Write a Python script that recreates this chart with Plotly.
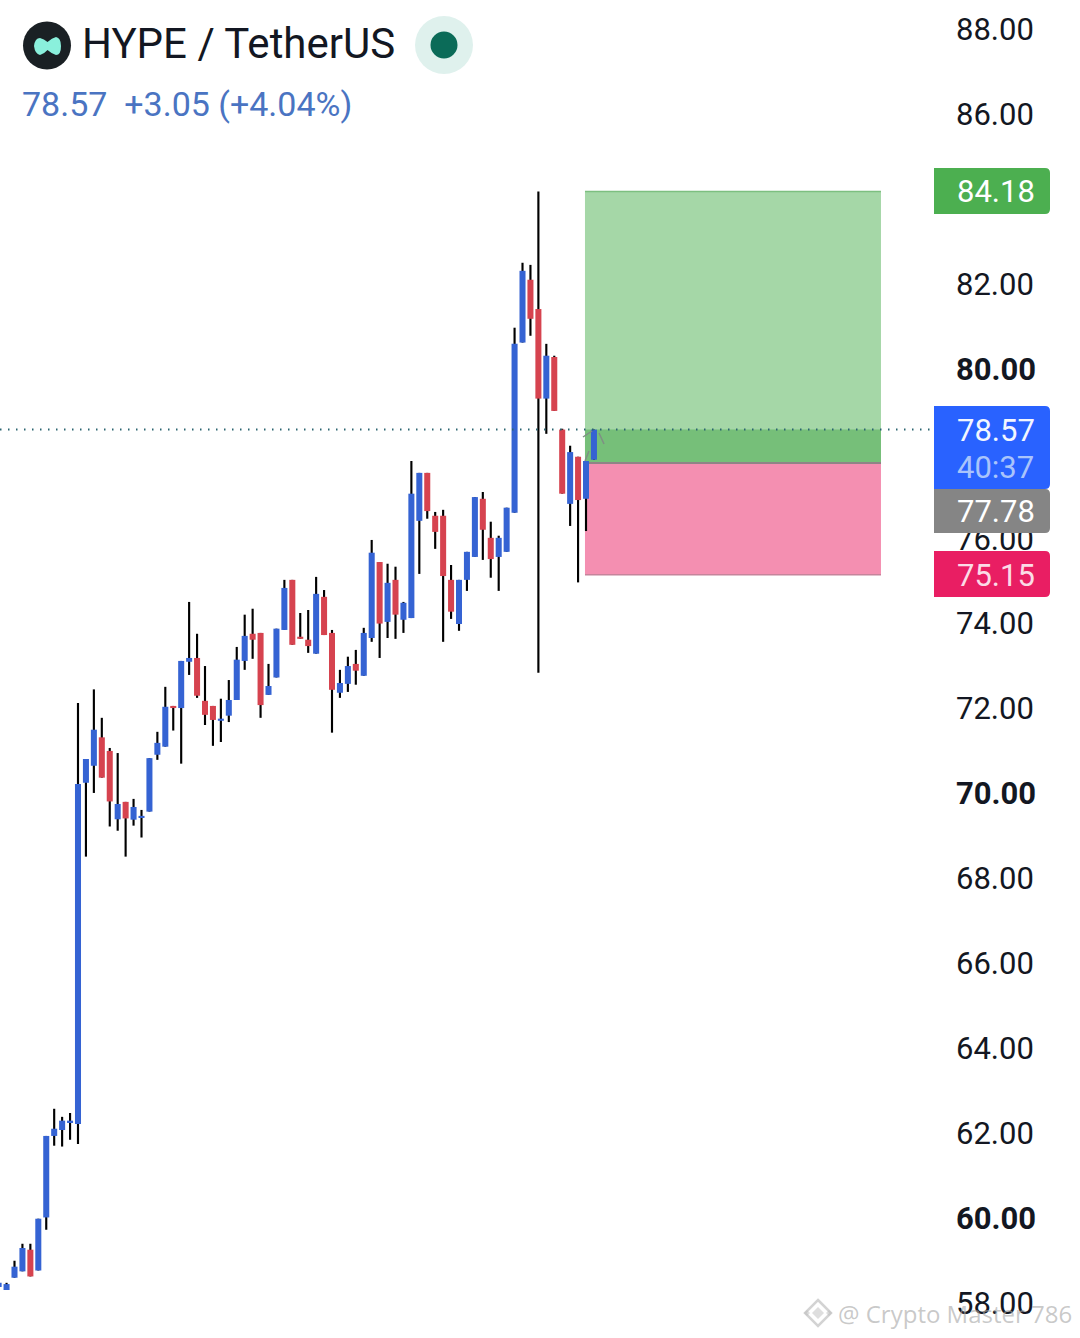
import plotly.graph_objects as go

W = 1080
H = 1338
PLOT_W = 934  # price axis starts right of this

opens = [58.37, 58.30, 58.59, 58.74, 59.25, 58.76, 60.01, 61.93, 62.07, 62.25,
         62.21, 70.25, 70.65, 71.32, 71.00, 69.39, 69.80, 69.38, 69.43, 69.57,
         70.91, 71.10, 72.06, 72.01, 73.10, 73.19, 72.18, 72.06, 71.71, 71.83,
         72.20, 73.12, 73.76, 73.78, 72.32, 72.73, 73.85, 75.03, 73.69, 73.62,
         73.29, 74.63, 73.78, 72.37, 72.58, 73.05, 72.77, 73.66, 75.45, 74.04,
         75.03, 74.09, 74.13, 76.42, 77.55, 76.54, 76.54, 75.03, 73.99, 75.03,
         75.57, 76.94, 76.02, 75.57, 75.69, 76.61, 80.62, 82.10, 81.41, 79.30,
         80.28, 78.57, 76.82, 77.93, 76.94, 77.86]
highs = [58.47, 58.47, 58.99, 59.39, 59.39, 59.98, 61.93, 62.57, 62.38, 62.47,
         72.13, 70.81, 72.45, 71.78, 71.07, 70.95, 69.80, 69.87, 69.61, 70.83,
         71.45, 72.51, 72.06, 73.12, 74.51, 73.76, 73.00, 72.06, 72.23, 72.67,
         73.45, 74.21, 74.35, 73.78, 73.05, 73.88, 75.03, 75.03, 74.25, 74.32,
         75.10, 74.79, 73.85, 72.91, 73.22, 73.38, 73.90, 75.97, 75.45, 75.41,
         75.34, 74.51, 77.83, 77.55, 77.55, 76.63, 76.68, 75.38, 75.03, 75.69,
         76.98, 77.10, 76.40, 76.07, 76.73, 80.97, 82.50, 82.45, 84.18, 80.59,
         80.31, 78.59, 78.19, 77.93, 77.83, 78.57]
lows = [58.37, 58.30, 58.59, 58.74, 58.62, 58.76, 59.72, 61.70, 61.68, 61.84,
        61.74, 68.51, 70.01, 70.37, 69.22, 69.12, 68.51, 69.24, 68.96, 69.57,
        70.79, 71.10, 71.48, 70.70, 72.79, 72.25, 71.61, 71.12, 71.21, 71.68,
        72.20, 72.91, 73.17, 71.78, 72.32, 72.73, 73.85, 73.50, 73.64, 73.31,
        73.29, 73.73, 71.43, 72.25, 72.39, 72.56, 72.77, 73.57, 73.19, 73.66,
        73.64, 73.78, 74.13, 75.17, 76.47, 75.76, 73.57, 74.11, 73.83, 74.77,
        75.57, 75.50, 75.08, 74.77, 75.69, 76.61, 80.62, 80.78, 72.84, 78.47,
        79.01, 77.06, 76.30, 74.97, 76.18, 77.86]
closes = [58.47, 58.44, 58.85, 59.29, 58.62, 59.98, 61.93, 62.10, 62.29, 62.29,
          70.22, 70.81, 71.50, 70.37, 69.81, 69.75, 69.41, 69.68, 69.47, 70.83,
          71.19, 72.04, 72.01, 73.12, 73.19, 72.30, 71.85, 71.73, 71.76, 72.20,
          73.15, 73.71, 73.62, 72.08, 72.53, 73.88, 74.84, 73.50, 73.64, 73.47,
          74.70, 73.73, 72.44, 72.60, 73.00, 72.89, 73.78, 75.67, 74.00, 74.96,
          74.21, 74.49, 77.06, 77.55, 76.65, 76.16, 75.12, 74.28, 75.03, 75.69,
          76.98, 76.21, 75.52, 76.02, 76.73, 80.59, 82.31, 81.18, 79.30, 80.31,
          79.01, 77.06, 78.04, 76.91, 77.83, 78.57]

y_ticks = [58, 60, 62, 64, 66, 68, 70, 72, 74, 76, 78, 80, 82, 84, 86, 88]
y_labels = ['58.00', '<b>60.00</b>', '62.00', '64.00', '66.00', '68.00', '<b>70.00</b>', '72.00',
            '74.00', '76.00', '', '<b>80.00</b>', '82.00', '', '86.00', '88.00']

last_price = 78.57
target = 84.18
entry = 77.78
stop = 75.15

BLUE = '#3563d3'
RED = '#d6434f'
TICK_FONT = 'Roboto'


def px(x):
    return x / PLOT_W


def py(y):
    return 1 - y / H


def tag(x0, y0, x1, y1, color, r=5):
    # price tag on the axis, rounded on the right side only
    path = (f'M {px(x0)} {py(y0)} L {px(x1 - r)} {py(y0)} Q {px(x1)} {py(y0)} {px(x1)} {py(y0 + r)} '
            f'L {px(x1)} {py(y1 - r)} Q {px(x1)} {py(y1)} {px(x1 - r)} {py(y1)} L {px(x0)} {py(y1)} Z')
    return dict(type='path', xref='paper', yref='paper', path=path, fillcolor=color, line_width=0)


def circle(cx, cy, r, color):
    return dict(type='circle', xref='paper', yref='paper', x0=px(cx - r), x1=px(cx + r),
                y0=py(cy + r), y1=py(cy - r), fillcolor=color, line_width=0)


def seg(points, color, width=1.5):
    path = 'M ' + ' L '.join(f'{px(a)} {py(b)}' for a, b in points)
    return dict(type='path', xref='paper', yref='paper', path=path, line=dict(color=color, width=width))


def diamond(cx, cy, r, **kw):
    path = (f'M {px(cx)} {py(cy - r)} L {px(cx + r)} {py(cy)} L {px(cx)} {py(cy + r)} '
            f'L {px(cx - r)} {py(cy)} Z')
    return dict(type='path', xref='paper', yref='paper', path=path, **kw)


def label(x, y, text, size, color, font=TICK_FONT):
    return dict(xref='paper', yref='paper', x=px(x), y=py(y), text=text, showarrow=False,
                xanchor='left', yanchor='middle', borderpad=0,
                font=dict(family=font, size=size, color=color))


idx = list(range(len(opens)))
up = [c >= o for o, c in zip(opens, closes)]

fig = go.Figure()

# wicks first so the bodies sit on top
fig.add_trace(go.Bar(x=idx, y=[h - l for h, l in zip(highs, lows)], base=lows, width=0.27,
                     marker=dict(color='#000000', line_width=0)))
for want, color in ((True, BLUE), (False, RED)):
    xs = [i for i in idx if up[i] == want]
    fig.add_trace(go.Bar(x=xs,
                         y=[abs(closes[i] - opens[i]) for i in xs],
                         base=[min(closes[i], opens[i]) for i in xs],
                         width=0.76,
                         marker=dict(color=color, line_width=0)))

# long / short zones, in data coords on x and y
zone_x0 = 73.87
zone_x1 = 111.16
shapes = [
    dict(type='rect', x0=zone_x0, x1=zone_x1, y0=entry, y1=target, fillcolor='#a5d7a7',
         line_width=0, layer='below'),
    dict(type='rect', x0=zone_x0, x1=zone_x1, y0=entry, y1=last_price, fillcolor='#76bf79',
         line_width=0, layer='below'),
    dict(type='rect', x0=zone_x0, x1=zone_x1, y0=stop, y1=entry, fillcolor='#f48fb1',
         line_width=0, layer='below'),
    dict(type='line', x0=zone_x0, x1=zone_x1, y0=target, y1=target,
         line=dict(color='#7dbf80', width=1.5), layer='below'),
    dict(type='line', x0=zone_x0, x1=zone_x1, y0=entry, y1=entry,
         line=dict(color='#8f8486', width=2), layer='below'),
    dict(type='line', x0=zone_x0, x1=zone_x1, y0=stop, y1=stop,
         line=dict(color='#c5849b', width=1.5), layer='below'),
    dict(type='line', xref='paper', x0=0, x1=1, y0=last_price, y1=last_price,
         line=dict(color='#2a6470', width=2, dash='1.5px,6.5px')),
    # small grey marks round the last candle
    seg([(583, 437), (592, 431)], '#7f8f85'),
    seg([(599, 433), (604, 444)], '#7f8f85'),
    seg([(585, 461), (589, 451)], '#7f8f85'),
    # axis tags
    tag(934, 168, 1050, 214, '#4caf50'),
    tag(934, 406, 1050, 489, '#2962ff'),
    tag(934, 489, 1050, 533, '#858585'),
    tag(934, 551, 1050, 597, '#e91e63'),
    # header logo and status dot
    circle(47, 45.5, 24, '#1a2024'),
    dict(type='path', xref='paper', yref='paper', fillcolor='#8af0dc', line_width=0,
         path=(f'M {px(34)} {py(46)} Q {px(35)} {py(38)} {px(40)} {py(38)} Q {px(44)} {py(39)} {px(47.5)} {py(42)} '
               f'Q {px(52)} {py(38)} {px(56)} {py(37)} Q {px(61)} {py(38)} {px(61)} {py(46)} '
               f'Q {px(61)} {py(55)} {px(56)} {py(55)} Q {px(52)} {py(54)} {px(47.5)} {py(50)} '
               f'Q {px(44)} {py(54)} {px(40)} {py(55)} Q {px(35)} {py(54)} {px(34)} {py(46)} Z')),
    circle(444, 45, 29, '#dff1ed'),
    circle(444, 45, 13.5, '#0b6b58'),
    # watermark icon
    diamond(818, 1313, 13, line=dict(color='rgba(175,175,175,0.55)', width=2.5)),
    diamond(818, 1313, 6, fillcolor='rgba(190,190,190,0.5)', line_width=0),
    diamond(807, 1313, 3, fillcolor='rgba(190,190,190,0.5)', line_width=0),
    diamond(829, 1313, 3, fillcolor='rgba(190,190,190,0.5)', line_width=0),
]

annotations = [
    label(80.5, 44, 'HYPE / TetherUS', 42, '#131722'),
    label(20.5, 104, '78.57&#160;&#160;+3.05 (+4.04%)', 34, '#4a74c2'),
    label(955.5, 192, '84.18', 31, '#ffffff'),
    label(955.5, 430.5, '78.57', 31, '#f2f6ff'),
    label(955.5, 467, '40:37', 31, '#a9c4fb'),
    label(955.5, 511, '77.78', 31, '#ffffff'),
    label(955.5, 575, '75.15', 31, '#fbdbe6'),
    label(837, 1313, '@ Crypto Master 786', 24, 'rgba(165,165,165,0.6)', font='Open Sans'),
]

fig.update_layout(
    width=W,
    height=H,
    margin=dict(l=0, r=W - PLOT_W, t=0, b=0),
    paper_bgcolor='white',
    plot_bgcolor='white',
    barmode='overlay',
    showlegend=False,
    hovermode=False,
    shapes=shapes,
    annotations=annotations,
    xaxis=dict(visible=False, range=[0.174, 117.84], fixedrange=True),
    yaxis=dict(side='right', range=[57.17, 88.69], tickmode='array', tickvals=y_ticks, ticktext=y_labels,
               showgrid=False, zeroline=False, showline=False, ticks='', ticklabelstandoff=21,
               tickfont=dict(family=TICK_FONT, size=31, color='#131722'), fixedrange=True),
)

fig.write_html("out.html", config={'displayModeBar': False}, post_script="document.body.style.margin='0';")
